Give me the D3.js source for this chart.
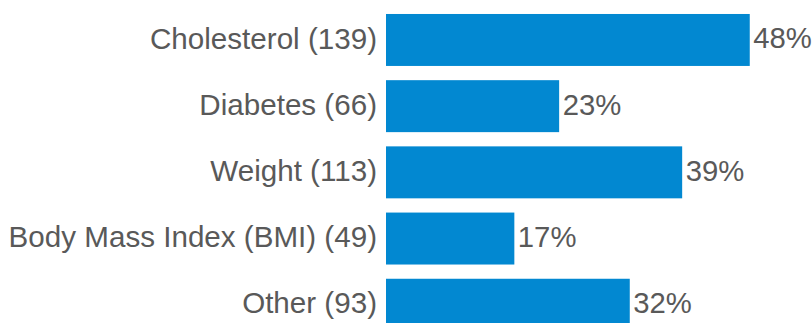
<!DOCTYPE html>
<html>
<head>
<meta charset="utf-8">
<script src="https://cdn.jsdelivr.net/npm/d3@7/dist/d3.min.js"></script>
<style>
  html, body { margin: 0; padding: 0; background: #ffffff; overflow: hidden; }
  svg { display: block; }
</style>
</head>
<body>
<svg id="chart" width="812" height="323"></svg>
<script>
const categories = ["Cholesterol (139)", "Diabetes (66)", "Weight (113)", "Body Mass Index (BMI) (49)", "Other (93)"];
const values = [47.9, 22.8, 39.0, 16.9, 32.1];
const valueLabels = ["48%", "23%", "39%", "17%", "32%"];

const svg = d3.select("#chart");
const x = d3.scaleLinear().domain([0, 50]).range([386, 386 + 379.7]);
const y = d3.scaleBand().domain(categories).range([6.7, 338]).paddingInner(0.215).paddingOuter(0.11);

const data = categories.map((c, i) => ({ c, v: values[i], label: valueLabels[i] }));

svg.selectAll("rect.bar").data(data).enter().append("rect")
  .attr("class", "bar")
  .attr("x", x(0))
  .attr("y", d => y(d.c))
  .attr("width", d => x(d.v) - x(0))
  .attr("height", y.bandwidth())
  .attr("fill", "#0288d1");

const font = "'Liberation Sans', Arial, sans-serif";

svg.selectAll("text.cat").data(data).enter().append("text")
  .attr("class", "cat")
  .attr("x", x(0) - 9)
  .attr("y", d => y(d.c) + y.bandwidth() / 2)
  .attr("dy", "0.29em")
  .attr("text-anchor", "end")
  .attr("font-family", font)
  .attr("font-size", "29.6px")
  .attr("fill", "#595959")
  .text(d => d.c);

svg.selectAll("text.val").data(data).enter().append("text")
  .attr("class", "val")
  .attr("x", d => x(d.v) + 3.5)
  .attr("y", d => y(d.c) + y.bandwidth() / 2)
  .attr("dy", "0.29em")
  .attr("text-anchor", "start")
  .attr("font-family", font)
  .attr("font-size", "29.3px")
  .attr("fill", "#595959")
  .text(d => d.label);
</script>
</body>
</html>
